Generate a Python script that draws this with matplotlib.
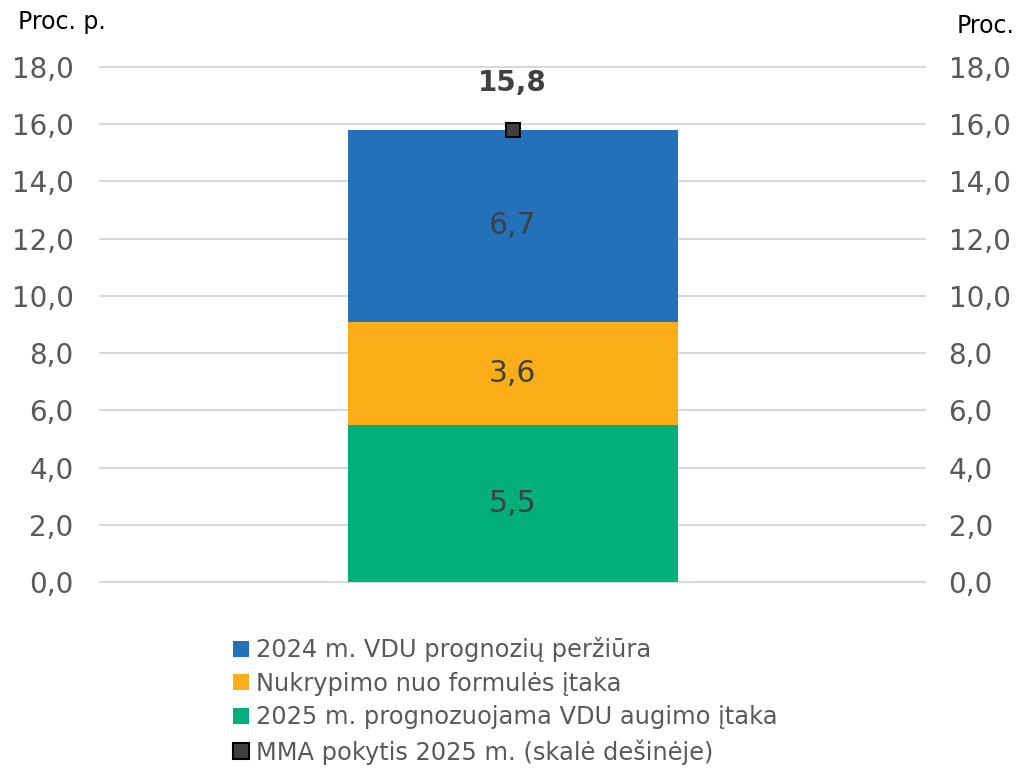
"""MMA pokycio 2025 m. dekompozicija."""

import matplotlib
matplotlib.use("Agg")
import matplotlib.pyplot as plt
from matplotlib.lines import Line2D
from matplotlib.patches import Patch


categories = ["MMA 2025"]
labels = [
    "2025 m. prognozuojama VDU augimo įtaka",
    "Nukrypimo nuo formulės įtaka",
    "2024 m. VDU prognozių peržiūra",
]
values = [5.5, 3.6, 6.7]
colors = ["#00AF7A", "#FBAE17", "#2271BA"]
mma_change = [15.8]
mma_label = "MMA pokytis 2025 m. (skalė dešinėje)"
ticks = [0, 2, 4, 6, 8, 10, 12, 14, 16, 18]

plt.rcParams["font.family"] = "DejaVu Sans"
GREY = "#595959"

fig = plt.figure(figsize=(10.23, 7.68), dpi=100)
ax = fig.add_axes([0.0978, 0.2422, 0.8064, 0.6706])
ax2 = ax.twinx()

x = [0]
bottom = 0.0
for val, col in zip(values, colors):
    ax.bar(x, [val], bottom=[bottom], width=0.8, color=col, zorder=3)
    ax.text(x[0], bottom + val / 2, f"{val:.1f}".replace(".", ","),
            ha="center", va="center", fontsize=21.5, color="#404040", zorder=4)
    bottom += val

ax2.plot(x, mma_change, linestyle="none", marker="s", markersize=10,
         markerfacecolor="#404040", markeredgecolor="#000000", markeredgewidth=1.5,
         zorder=5)
ax2.text(x[0], mma_change[0] + 1.15, f"{mma_change[0]:.1f}".replace(".", ","),
         ha="center", va="bottom", fontsize=20, fontweight="bold", color="#404040")

for a, pad in ((ax, 19), (ax2, 17)):
    a.set_xlim(-1, 1)
    a.set_ylim(0, 18)
    a.set_yticks(ticks)
    a.set_yticklabels([f"{t:.1f}".replace(".", ",") for t in ticks])
    a.tick_params(axis="y", length=0, labelsize=20, labelcolor=GREY, pad=pad)
    for s in a.spines.values():
        s.set_visible(False)
ax.set_xticks([])
ax.yaxis.grid(True, color="#D9D9D9", linewidth=1.5, zorder=0)
for gl in ax.get_ygridlines():
    gl.set_clip_on(False)
ax.set_axisbelow(True)

fig.text(0.018, 0.972, "Proc. p.", fontsize=17, color="black", va="center")
fig.text(0.992, 0.966, "Proc.", fontsize=17, color="black", va="center", ha="right")

handles = [Patch(facecolor=colors[2]), Patch(facecolor=colors[1]),
           Patch(facecolor=colors[0]),
           Line2D([], [], linestyle="none", marker="s", markersize=12,
                  markerfacecolor="#404040", markeredgecolor="#000000",
                  markeredgewidth=1.5)]
leg_labels = [labels[2], labels[1], labels[0], mma_label]
leg = fig.legend(handles, leg_labels, loc="upper center", bbox_to_anchor=(0.494, 0.183),
                 ncol=1, frameon=False, fontsize=17.4, handlelength=0.65,
                 handleheight=0.65, handletextpad=0.3, labelspacing=0.4,
                 borderaxespad=0)
for t in leg.get_texts():
    t.set_color(GREY)

fig.savefig("out.png", dpi=100)
